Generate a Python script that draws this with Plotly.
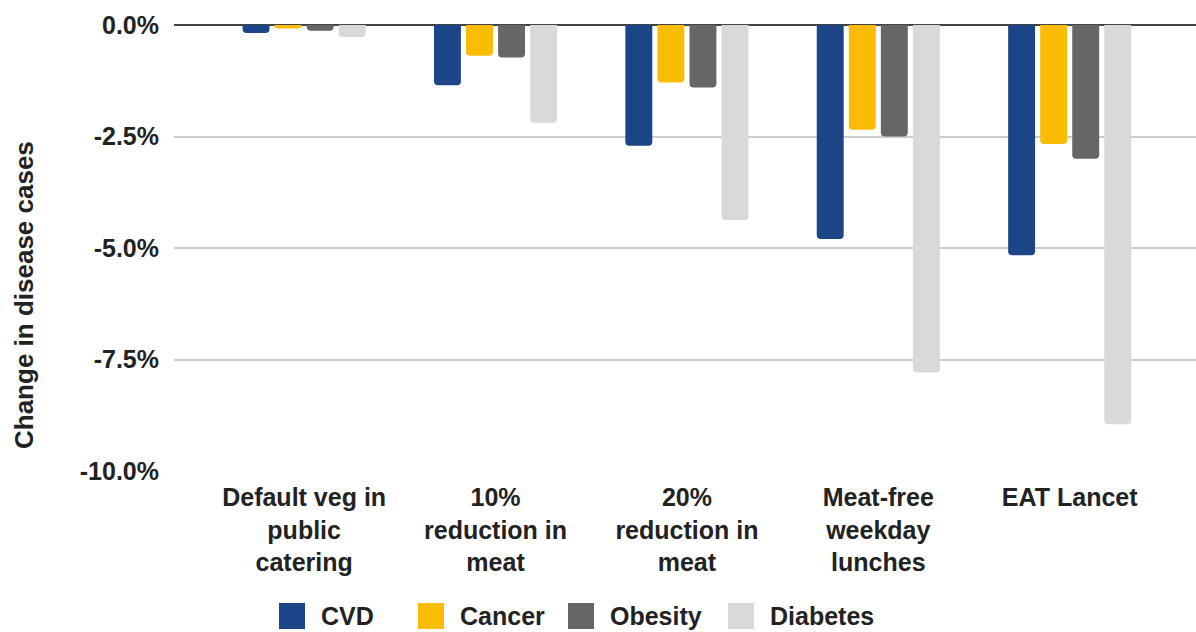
import plotly.graph_objects as go

# Scenarios on the x axis (multi-line labels)
scenarios = [
    "Default veg in<br>public<br>catering",
    "10%<br>reduction in<br>meat",
    "20%<br>reduction in<br>meat",
    "Meat-free<br>weekday<br>lunches",
    "EAT Lancet",
]

# Change in disease cases, in percent
cvd = [-0.18, -1.35, -2.71, -4.80, -5.16]
cancer = [-0.08, -0.69, -1.29, -2.35, -2.67]
obesity = [-0.13, -0.73, -1.40, -2.50, -3.00]
diabetes = [-0.27, -2.19, -4.37, -7.79, -8.95]

series_names = ["CVD", "Cancer", "Obesity", "Diabetes"]
series_values = [cvd, cancer, obesity, diabetes]
series_colors = ["#1c4587", "#fbbc04", "#666666", "#d9d9d9"]

y_ticks = [0, -2.5, -5, -7.5, -10]
y_tick_labels = ["0.0%", "-2.5%", "-5.0%", "-7.5%", "-10.0%"]

FONT = "Liberation Sans, Arial, sans-serif"
W, H = 1196, 632
ML, MR, MT, MB = 174, 0, 25, 161
plot_w = W - ML - MR
plot_h = H - MT - MB


def px_to_paper_x(px):
    return (px - ML) / plot_w


def px_to_paper_y(py):
    return (H - MB - py) / plot_h


fig = go.Figure()
xs = list(range(len(scenarios)))
for name, vals, color in zip(series_names, series_values, series_colors):
    fig.add_trace(go.Bar(
        x=xs, y=vals, name=name, marker=dict(color=color, line=dict(width=0)),
        showlegend=False,
    ))

fig.update_layout(
    width=W, height=H,
    margin=dict(l=ML, r=MR, t=MT, b=MB, pad=0),
    paper_bgcolor="white", plot_bgcolor="white",
    barmode="group", bargap=0.33, bargroupgap=0.16, barcornerradius=4,
    font=dict(family=FONT, color="#222222", size=25, weight="bold"),
    xaxis=dict(
        tickmode="array", tickvals=xs, ticktext=scenarios,
        range=[-0.68, 4.66], showgrid=False, zeroline=False, showline=False,
        ticks="", tickfont=dict(size=25, family=FONT, weight="bold", color="#222222"),
        ticklabelstandoff=9,
    ),
    yaxis=dict(
        tickmode="array", tickvals=y_ticks, ticktext=y_tick_labels,
        range=[-10, 0], showgrid=True, gridcolor="#cccccc", gridwidth=2,
        zeroline=True, zerolinecolor="#444444", zerolinewidth=2,
        showline=False, ticks="",
        tickfont=dict(size=25, family=FONT, weight="bold", color="#222222"),
        ticklabelstandoff=14,
    ),
)

# Rotated y-axis title
fig.add_annotation(
    text="Change in disease cases", textangle=-90,
    xref="paper", yref="paper", x=px_to_paper_x(24), y=px_to_paper_y(295),
    xanchor="center", yanchor="middle", showarrow=False,
    font=dict(size=26, family=FONT, weight="bold", color="#222222"),
)

# Legend row along the bottom
legend_x = [279, 418, 568, 728]
sq_w, sq_h = 26, 26
legend_cy = 616
for name, color, lx in zip(series_names, series_colors, legend_x):
    fig.add_shape(
        type="rect", xref="paper", yref="paper",
        x0=px_to_paper_x(lx), x1=px_to_paper_x(lx + sq_w),
        y0=px_to_paper_y(legend_cy + sq_h / 2), y1=px_to_paper_y(legend_cy - sq_h / 2),
        fillcolor=color, line=dict(width=0),
    )
    fig.add_annotation(
        text=name, xref="paper", yref="paper",
        x=px_to_paper_x(lx + sq_w + 14), y=px_to_paper_y(legend_cy),
        xanchor="left", yanchor="middle", showarrow=False,
        font=dict(size=25, family=FONT, weight="bold", color="#222222"),
    )

fig.write_html("out.html")
